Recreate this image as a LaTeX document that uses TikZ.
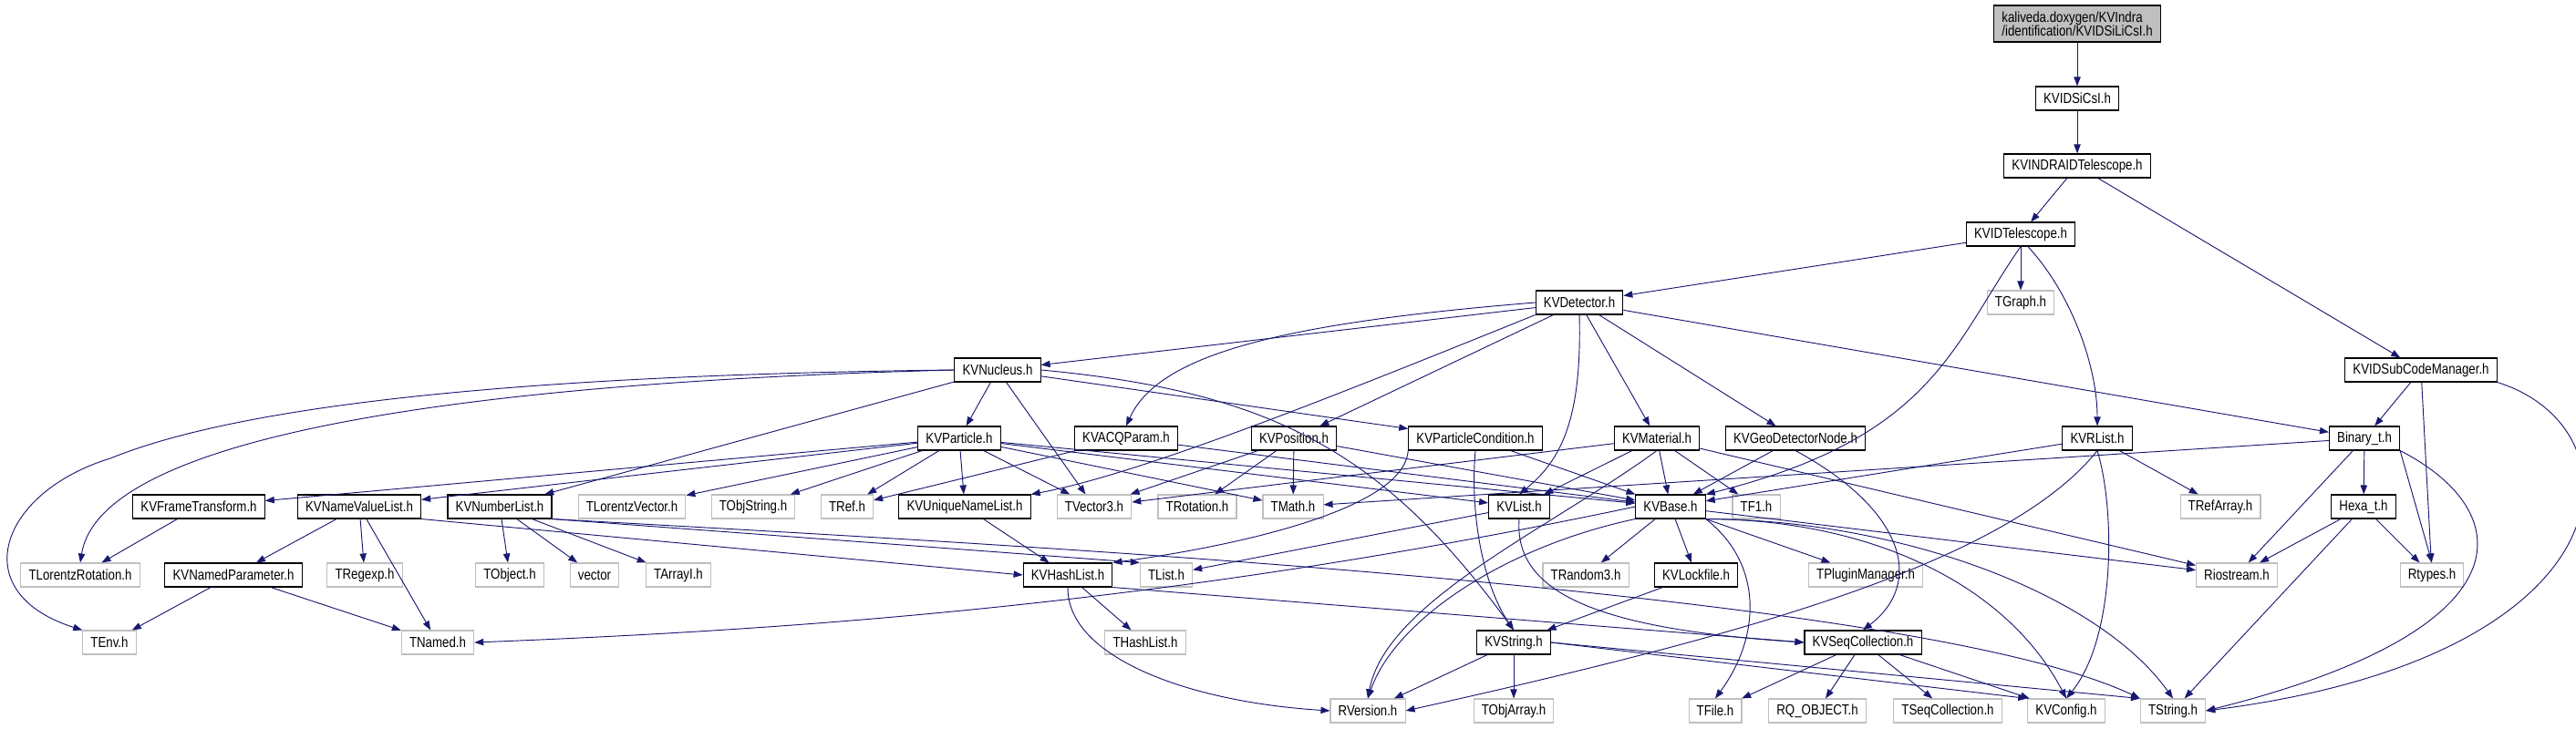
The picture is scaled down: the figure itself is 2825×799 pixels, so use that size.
\documentclass[tikz,border=0pt]{standalone}
\usepackage{fontspec}
\setmainfont[FakeStretch=0.83]{Liberation Sans}
\usetikzlibrary{arrows.meta}
\definecolor{edgeblue}{HTML}{191970}
\definecolor{boxgray}{HTML}{BFBFBF}

\begin{document}
\begin{tikzpicture}[x=0.75pt,y=-0.75pt,>={Triangle[length=7.5pt,width=5.5pt]},
  hdr/.style={draw=black,line width=0.8pt,fill=white,inner xsep=6.5pt,inner ysep=0pt,minimum height=19.5pt,font=\fontsize{12}{11.5}\selectfont},
  sys/.style={hdr,draw=boxgray},
  dep/.style={->,edgeblue,line width=0.7pt}]
\useasboundingbox (0,0) rectangle (2825,799);
% top of the graph
\node[hdr,fill=boxgray,align=left,minimum height=30pt] (root) at (2278,26) {kaliveda.doxygen/KVIndra\\/identification/KVIDSiLiCsI.h};
\node[hdr] (sicsi) at (2278,108) {KVIDSiCsI.h};
\node[hdr] (indra) at (2278,182) {KVINDRAIDTelescope.h};
\node[hdr] (idtel) at (2216,257) {KVIDTelescope.h};
\node[sys] (tgraph) at (2216,332) {TGraph.h};
\node[hdr] (detector) at (1732,332) {KVDetector.h};
\node[hdr] (nucleus) at (1094,406) {KVNucleus.h};
\node[hdr] (subcode) at (2655,406) {KVIDSubCodeManager.h};
% row 481
\node[hdr] (particle) at (1052,481) {KVParticle.h};
\node[hdr] (acq) at (1235,481) {KVACQParam.h};
\node[hdr] (position) at (1419,481) {KVPosition.h};
\node[hdr] (pcond) at (1618,481) {KVParticleCondition.h};
\node[hdr] (material) at (1817,481) {KVMaterial.h};
\node[hdr] (geonode) at (1969,481) {KVGeoDetectorNode.h};
\node[hdr] (rlist) at (2300,481) {KVRList.h};
\node[hdr] (binary) at (2593,481) {Binary\_t.h};
% row 556
\node[hdr] (frame) at (218,556) {KVFrameTransform.h};
\node[hdr] (nvl) at (394,556) {KVNameValueList.h};
\node[hdr] (numlist) at (548,556) {KVNumberList.h};
\node[sys] (tlv) at (693,556) {TLorentzVector.h};
\node[sys] (tobjstr) at (826,556) {TObjString.h};
\node[sys] (tref) at (929,556) {TRef.h};
\node[hdr] (uniq) at (1058,556) {KVUniqueNameList.h};
\node[sys] (tvec) at (1200,556) {TVector3.h};
\node[sys] (trot) at (1313,556) {TRotation.h};
\node[sys] (tmath) at (1418,556) {TMath.h};
\node[hdr] (kvlist) at (1666,556) {KVList.h};
\node[hdr] (kvbase) at (1832,556) {KVBase.h};
\node[sys] (tf1) at (1926,556) {TF1.h};
\node[sys] (trefarr) at (2435,556) {TRefArray.h};
\node[hdr] (hexa) at (2592,556) {Hexa\_t.h};
% row 631
\node[sys] (tlrot) at (88,631) {TLorentzRotation.h};
\node[hdr] (namedpar) at (256,631) {KVNamedParameter.h};
\node[sys] (tregexp) at (400,631) {TRegexp.h};
\node[sys] (tobject) at (559,631) {TObject.h};
\node[sys] (vector) at (652,631) {vector};
\node[sys] (tarrayi) at (744,631) {TArrayI.h};
\node[hdr] (hashlist) at (1171,631) {KVHashList.h};
\node[sys] (tlist) at (1279,631) {TList.h};
\node[sys] (trandom) at (1739,631) {TRandom3.h};
\node[hdr] (lockfile) at (1860,631) {KVLockfile.h};
\node[sys] (plugin) at (2046,631) {TPluginManager.h};
\node[sys] (riostream) at (2453,631) {Riostream.h};
\node[sys] (rtypes) at (2667,631) {Rtypes.h};
% row 705
\node[sys] (tenv) at (120,705) {TEnv.h};
\node[sys] (tnamed) at (480,705) {TNamed.h};
\node[sys] (thashlist) at (1256,705) {THashList.h};
\node[hdr] (kvstring) at (1660,705) {KVString.h};
\node[hdr] (seqcoll) at (2043,705) {KVSeqCollection.h};
% bottom row
\node[sys] (rversion) at (1500,780) {RVersion.h};
\node[sys] (tobjarr) at (1660,780) {TObjArray.h};
\node[sys] (tfile) at (1881,780) {TFile.h};
\node[sys] (rqobj) at (1993,780) {RQ\_OBJECT.h};
\node[sys] (tseqcoll) at (2136,780) {TSeqCollection.h};
\node[sys] (kvconfig) at (2266,780) {KVConfig.h};
\node[sys] (tstring) at (2383,780) {TString.h};
% straight includes
\foreach \a/\b in {root/sicsi,sicsi/indra,indra/idtel,indra/subcode,idtel/detector,idtel/tgraph,
  subcode/binary,subcode/rtypes,detector/nucleus,detector/position,detector/material,detector/geonode,detector/binary,
  nucleus/numlist,nucleus/particle,nucleus/tvec,nucleus/pcond,
  particle/frame,particle/nvl,particle/tlv,particle/tobjstr,particle/tref,particle/uniq,particle/tvec,particle/tmath,particle/kvlist,particle/kvbase,
  acq/tref,acq/kvbase,position/tvec,position/trot,position/tmath,position/kvbase,pcond/kvbase,
  material/tvec,material/kvlist,material/kvbase,material/tf1,material/riostream,geonode/kvbase,rlist/kvbase,rlist/trefarr,
  binary/tmath,binary/hexa,binary/riostream,hexa/riostream,hexa/tstring,hexa/rtypes,
  frame/tlrot,nvl/namedpar,nvl/tregexp,nvl/tnamed,numlist/tobject,numlist/vector,numlist/tarrayi,namedpar/tenv,namedpar/tnamed,
  uniq/hashlist,hashlist/thashlist,kvlist/tlist,kvbase/trandom,kvbase/lockfile,kvbase/plugin,kvbase/riostream,
  lockfile/kvstring,kvstring/rversion,kvstring/tobjarr,seqcoll/tfile,seqcoll/rqobj,seqcoll/tseqcoll,seqcoll/kvconfig}
  \draw[dep] (\a) -- (\b);
\draw[dep] (binary.south east) -- (rtypes.north);
\draw[dep] (nvl.south east) -- (hashlist.west);
\draw[dep] (hashlist.south east) -- (seqcoll.west);
\draw[dep] (kvstring.east) -- (kvconfig.north west);
\draw[dep] (kvstring.east) -- (tstring.north west);
% curved includes
\draw[dep] (nucleus.west) .. controls (700,410) and (300,430) .. (121,503) .. controls (0,540) and (-40,650) .. (tenv.north west);
\draw[dep] (nucleus.west) .. controls (500,420) and (110,480) .. (tlrot.north);
\draw[dep] (nucleus.east) .. controls (1400,430) and (1520,500) .. (kvstring.north);
\draw[dep] (detector.west) .. controls (1400,355) and (1270,390) .. (acq.north);
\draw[dep] (detector.south west) .. controls (1450,440) and (1250,520) .. (uniq.north east);
\draw[dep] (detector.south) .. controls (1735,460) and (1712,505) .. (kvlist.north);
\draw[dep] (idtel.south) .. controls (2140,380) and (2120,480) .. (kvbase.north east);
\draw[dep] (idtel.300) .. controls (2270,320) and (2300,400) .. (rlist.north);
\draw[dep] (subcode.south east) .. controls (2900,470) and (2890,720) .. (tstring.east);
\draw[dep] (binary.south east) .. controls (2760,560) and (2780,690) .. (tstring.east);
\draw[dep] (pcond.south) .. controls (1612,560) and (1625,640) .. (kvstring.north);
\draw[dep] (pcond.south west) .. controls (1540,560) and (1350,600) .. (hashlist.north east);
\draw[dep] (material.south) .. controls (1700,580) and (1520,660) .. (rversion.north);
\draw[dep] (geonode.south) .. controls (2090,560) and (2110,640) .. (seqcoll.north);
\draw[dep] (rlist.south) .. controls (2200,620) and (1900,700) .. (rversion.east);
\draw[dep] (rlist.south) .. controls (2320,560) and (2320,700) .. (kvconfig.north);
\draw[dep] (numlist.south east) .. controls (950,595) and (1150,610) .. (tlist.north west);
\draw[dep] (numlist.south east) .. controls (1150,600) and (2100,650) .. (tstring.north west);
\draw[dep] (kvlist.south) .. controls (1660,650) and (1750,690) .. (seqcoll.west);
\draw[dep] (hashlist.south) .. controls (1170,720) and (1300,770) .. (rversion.west);
\draw[dep] (kvbase.west) .. controls (1300,660) and (900,690) .. (tnamed.east);
\draw[dep] (kvbase.south west) .. controls (1650,600) and (1530,680) .. (rversion.north);
\draw[dep] (kvbase.south east) .. controls (1935,620) and (1930,700) .. (tfile.north);
\draw[dep] (kvbase.south east) .. controls (2050,570) and (2200,640) .. (kvconfig.north);
\draw[dep] (kvbase.south east) .. controls (2080,570) and (2300,650) .. (tstring.north);
\end{tikzpicture}
\end{document}
